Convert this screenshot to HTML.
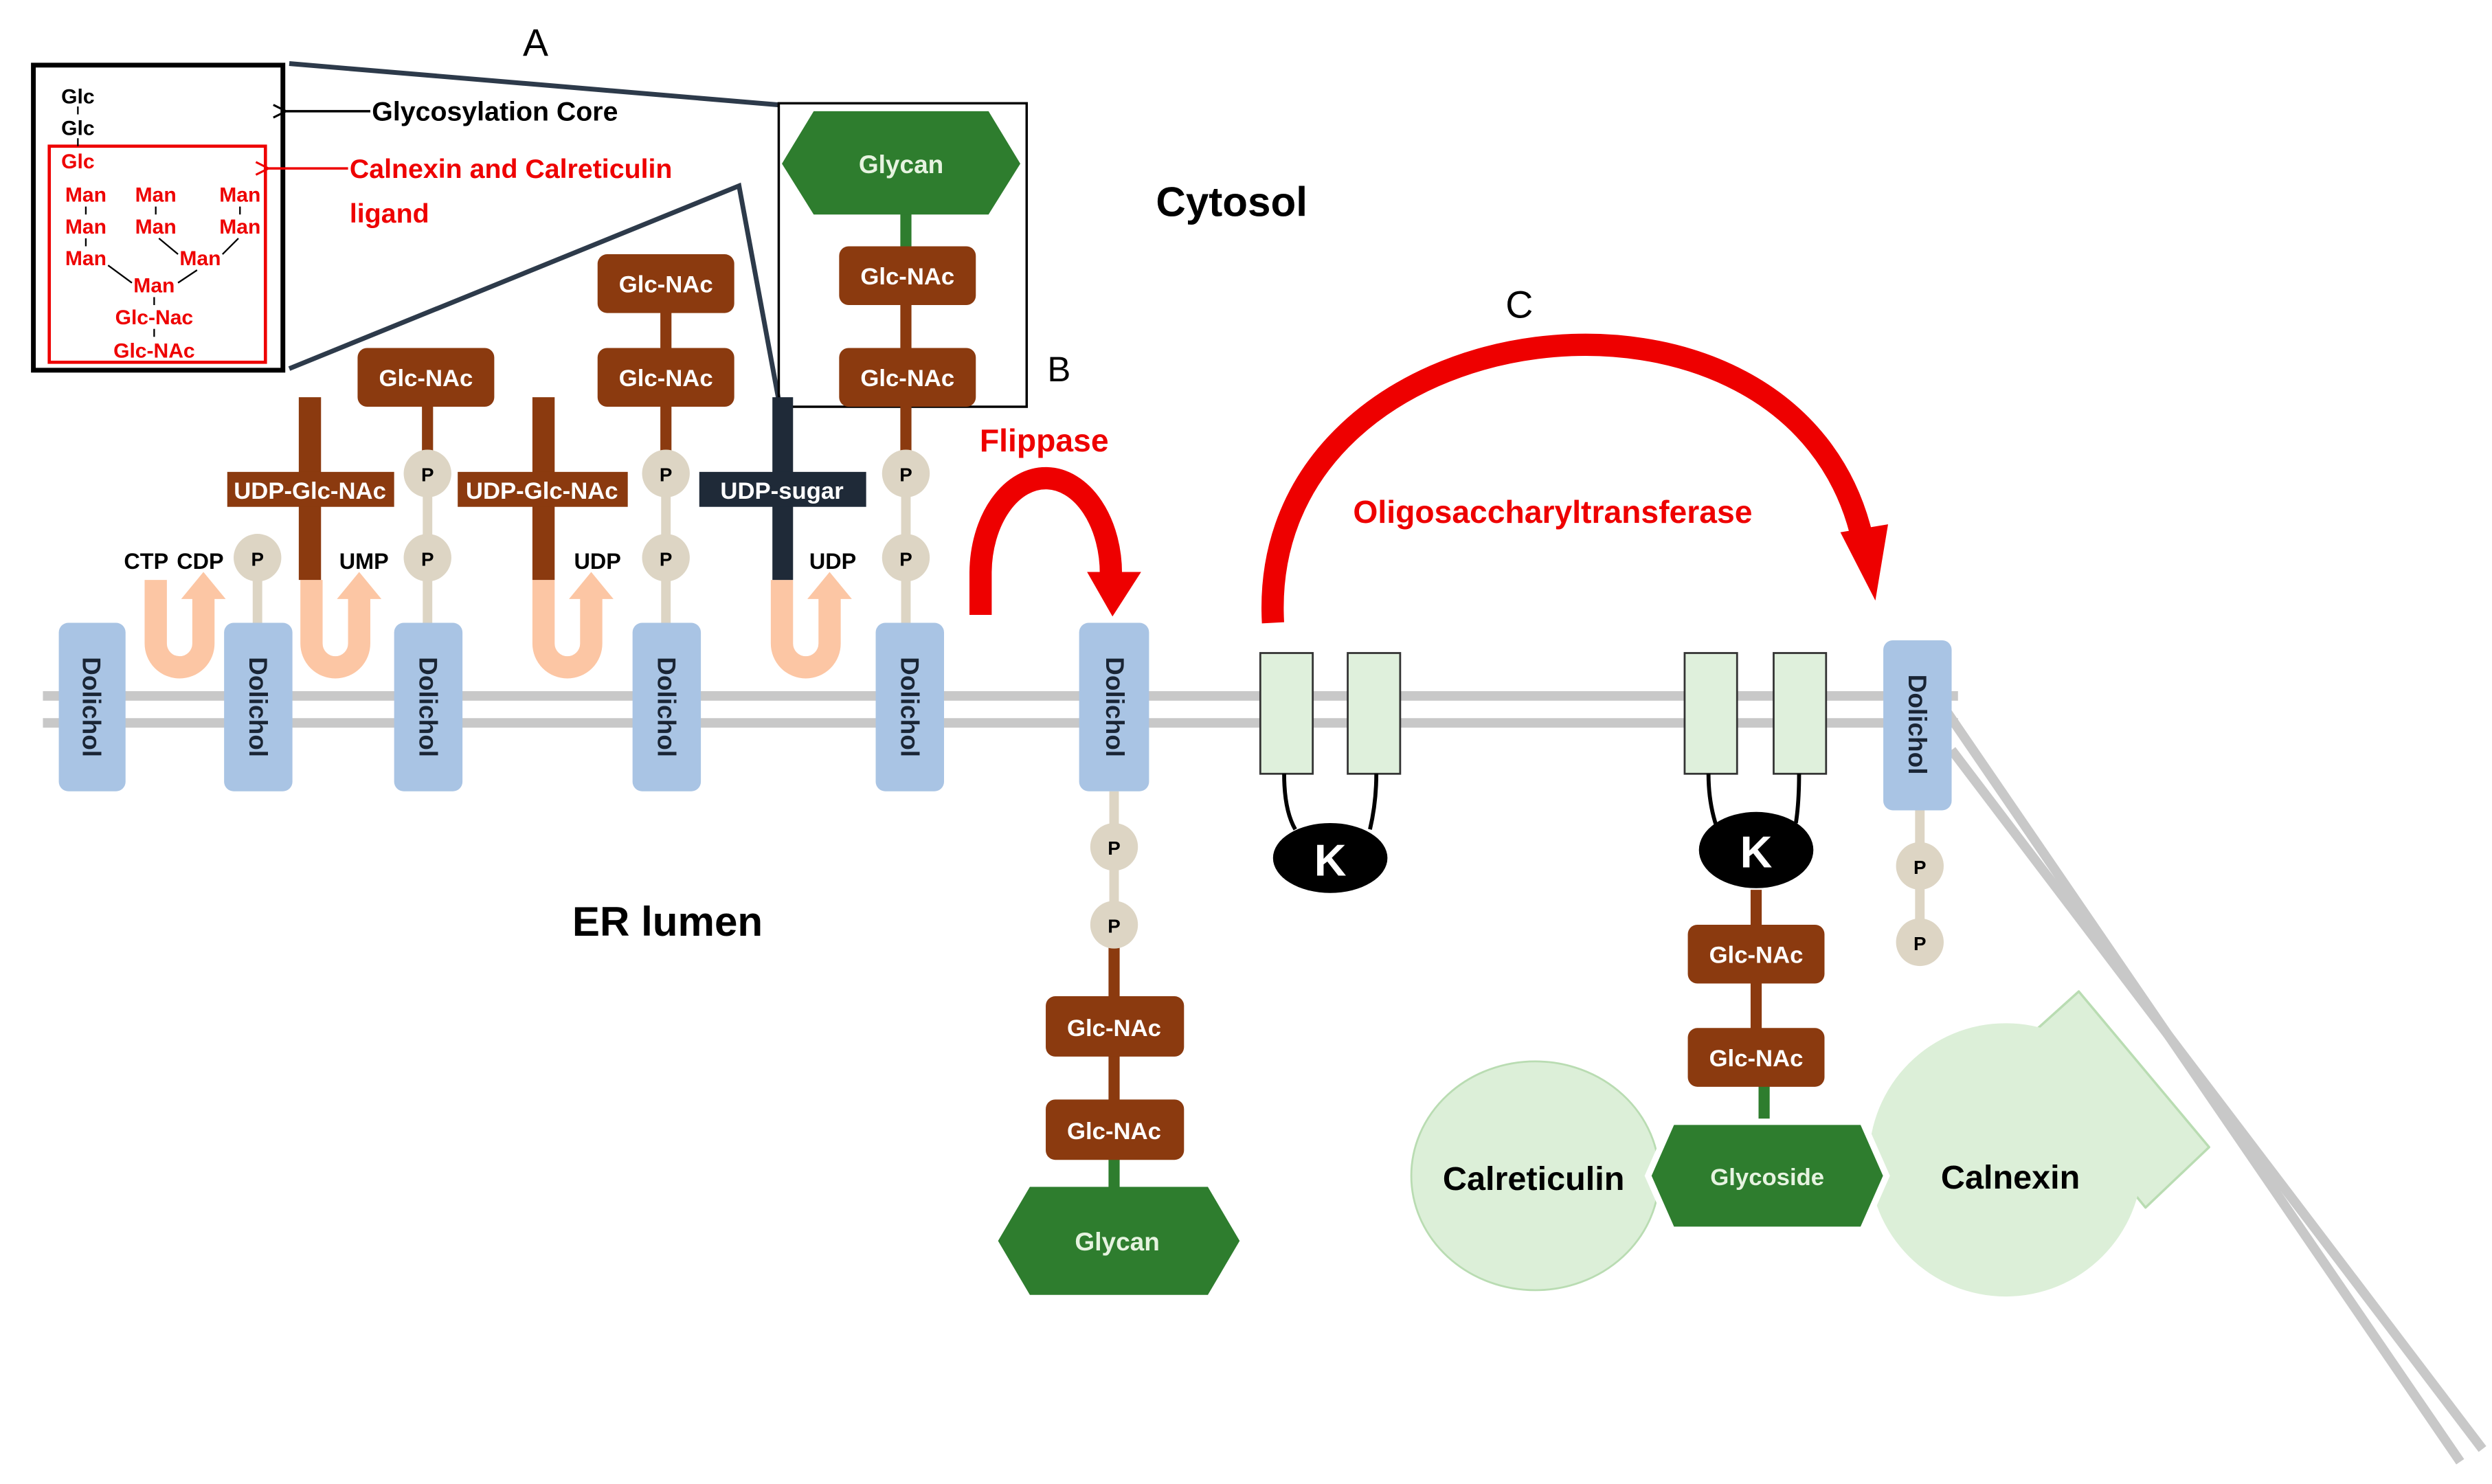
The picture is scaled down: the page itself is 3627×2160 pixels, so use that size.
<!DOCTYPE html>
<html><head><meta charset="utf-8"><style>
html,body{margin:0;padding:0;background:#fff;}
svg{display:block;}
text{font-family:"Liberation Sans",sans-serif;font-weight:bold;}
</style></head><body>
<svg width="3627" height="2160" viewBox="0 0 1568 934" preserveAspectRatio="none" xmlns="http://www.w3.org/2000/svg">
<defs>
<marker id="ab" markerWidth="10" markerHeight="10" refX="1" refY="5" orient="auto" markerUnits="userSpaceOnUse"><path d="M9,1 L1,5 L9,9" fill="none" stroke="#000" stroke-width="1.3"/></marker>
<marker id="ar" markerWidth="10" markerHeight="10" refX="1" refY="5" orient="auto" markerUnits="userSpaceOnUse"><path d="M9,1 L1,5 L9,9" fill="none" stroke="#e00" stroke-width="1.3"/></marker>
</defs>
<g stroke="#c8c8c8" stroke-width="6" fill="none">
<line x1="27" y1="438" x2="1232" y2="438"/>
<line x1="27" y1="455" x2="1232" y2="455"/>
<line x1="1225" y1="448" x2="1548" y2="920"/>
<line x1="1228" y1="472" x2="1562" y2="912"/>
</g>
<text x="337" y="35" font-size="24" text-anchor="middle" style="font-weight:normal">A</text>
<g stroke="#2d3a4a" stroke-width="3" fill="none">
<line x1="182" y1="40" x2="490" y2="66"/>
<polyline points="182,232 465,117 490,252"/>
</g>
<rect x="21" y="41" width="157" height="192" fill="#fff" stroke="#000" stroke-width="3"/>
<rect x="31" y="92" width="136" height="136" fill="none" stroke="#e00" stroke-width="2"/>
<g font-size="13" text-anchor="middle">
<text x="49" y="65" fill="#000">Glc</text>
<text x="49" y="85" fill="#000">Glc</text>
<line x1="49" y1="67" x2="49" y2="72" stroke="#000"/>
<line x1="49" y1="87" x2="49" y2="92" stroke="#000"/>
<g fill="#e00">
<text x="49" y="106">Glc</text>
<text x="54" y="127">Man</text><text x="98" y="127">Man</text><text x="151" y="127">Man</text>
<text x="54" y="147">Man</text><text x="98" y="147">Man</text><text x="151" y="147">Man</text>
<text x="54" y="167">Man</text><text x="126" y="167">Man</text>
<text x="97" y="184">Man</text>
<text x="97" y="204">Glc-Nac</text>
<text x="97" y="225">Glc-NAc</text>
</g>
<g stroke="#000" stroke-width="1">
<line x1="54" y1="130" x2="54" y2="135"/><line x1="98" y1="130" x2="98" y2="135"/><line x1="151" y1="130" x2="151" y2="135"/>
<line x1="54" y1="150" x2="54" y2="155"/><line x1="100" y1="150" x2="112" y2="160"/><line x1="150" y1="150" x2="140" y2="160"/>
<line x1="68" y1="167" x2="83" y2="178"/><line x1="124" y1="170" x2="112" y2="178"/>
<line x1="97" y1="187" x2="97" y2="192"/><line x1="97" y1="207" x2="97" y2="212"/>
</g>
</g>
<line x1="233" y1="70" x2="180" y2="70" stroke="#000" stroke-width="1.5" marker-end="url(#ab)"/>
<text x="234" y="76" font-size="17">Glycosylation Core</text>
<line x1="219" y1="106" x2="169" y2="106" stroke="#e00" stroke-width="1.5" marker-end="url(#ar)"/>
<text x="220" y="112" font-size="17" fill="#e00">Calnexin and Calreticulin</text>
<text x="220" y="140" font-size="17" fill="#e00">ligand</text>
<rect x="490" y="65" width="156" height="191" fill="none" stroke="#000" stroke-width="1.5"/>
<text x="659" y="240" font-size="22" style="font-weight:normal">B</text>
<text x="956" y="200" font-size="24" style="font-weight:normal" text-anchor="middle">C</text>
<text x="775" y="136" font-size="26" text-anchor="middle">Cytosol</text>
<text x="420" y="589" font-size="26" text-anchor="middle">ER lumen</text>
<g stroke="#fcc6a4" stroke-width="14" fill="none">
<path d="M98,365 V405 A15,15 0 0 0 128,405 V375"/>
<path d="M196,365 V405 A15,15 0 0 0 226,405 V375"/>
<path d="M342,365 V405 A15,15 0 0 0 372,405 V375"/>
<path d="M492,365 V405 A15,15 0 0 0 522,405 V375"/>
</g>
<g fill="#fcc6a4">
<polygon points="114,377 142,377 128,360"/>
<polygon points="212,377 240,377 226,360"/>
<polygon points="358,377 386,377 372,360"/>
<polygon points="508,377 536,377 522,360"/>
</g>
<rect x="188" y="250" width="14" height="115" fill="#8b3a0f"/>
<rect x="143" y="297" width="105" height="22" fill="#8b3a0f"/>
<text x="195" y="314" font-size="15" fill="#fff" text-anchor="middle">UDP-Glc-NAc</text>
<rect x="335" y="250" width="14" height="115" fill="#8b3a0f"/>
<rect x="288" y="297" width="107" height="22" fill="#8b3a0f"/>
<text x="341" y="314" font-size="15" fill="#fff" text-anchor="middle">UDP-Glc-NAc</text>
<rect x="486" y="250" width="13" height="115" fill="#1f2a38"/>
<rect x="440" y="297" width="105" height="22" fill="#1f2a38"/>
<text x="492" y="314" font-size="15" fill="#fff" text-anchor="middle">UDP-sugar</text>
<g font-size="14" text-anchor="middle">
<text x="92" y="358">CTP</text><text x="126" y="358">CDP</text>
<text x="229" y="358">UMP</text><text x="376" y="358">UDP</text><text x="524" y="358">UDP</text>
</g>
<g stroke="#ddd5c4" stroke-width="6">
<line x1="162" y1="351" x2="162" y2="395"/>
<line x1="269" y1="298" x2="269" y2="395"/>
<line x1="419" y1="298" x2="419" y2="395"/>
<line x1="570" y1="298" x2="570" y2="395"/>
<line x1="701" y1="498" x2="701" y2="582"/>
<line x1="1208" y1="505" x2="1208" y2="593"/>
</g>
<g stroke="#8b3a0f" stroke-width="7">
<line x1="269" y1="250" x2="269" y2="285"/>
<line x1="419" y1="190" x2="419" y2="285"/>
<line x1="570" y1="180" x2="570" y2="285"/>
<line x1="701" y1="595" x2="701" y2="700"/>
<line x1="1105" y1="560" x2="1105" y2="670"/>
</g>
<g stroke="#2e7d2e" stroke-width="7">
<line x1="570" y1="130" x2="570" y2="160"/>
<line x1="701" y1="725" x2="701" y2="750"/>
<line x1="1110" y1="680" x2="1110" y2="710"/>
</g>
<g fill="#ddd5c4">
<circle cx="162" cy="351" r="15"/>
<circle cx="269" cy="298" r="15"/><circle cx="269" cy="351" r="15"/>
<circle cx="419" cy="298" r="15"/><circle cx="419" cy="351" r="15"/>
<circle cx="570" cy="298" r="15"/><circle cx="570" cy="351" r="15"/>
<circle cx="701" cy="533" r="15"/><circle cx="701" cy="582" r="15"/>
<circle cx="1208" cy="545" r="15"/><circle cx="1208" cy="593" r="15"/>
</g>
<g font-size="12" text-anchor="middle">
<text x="162" y="356">P</text>
<text x="269" y="303">P</text><text x="269" y="356">P</text>
<text x="419" y="303">P</text><text x="419" y="356">P</text>
<text x="570" y="303">P</text><text x="570" y="356">P</text>
<text x="701" y="538">P</text><text x="701" y="587">P</text>
<text x="1208" y="550">P</text><text x="1208" y="598">P</text>
</g>
<g fill="#8b3a0f">
<rect x="225" y="219" width="86" height="37" rx="6"/>
<rect x="376" y="160" width="86" height="37" rx="6"/>
<rect x="376" y="219" width="86" height="37" rx="6"/>
<rect x="528" y="155" width="86" height="37" rx="6"/>
<rect x="528" y="219" width="86" height="37" rx="6"/>
<rect x="658" y="627" width="87" height="38" rx="6"/>
<rect x="658" y="692" width="87" height="38" rx="6"/>
<rect x="1062" y="582" width="86" height="37" rx="6"/>
<rect x="1062" y="647" width="86" height="37" rx="6"/>
</g>
<g font-size="15" fill="#fff" text-anchor="middle">
<text x="268" y="243">Glc-NAc</text>
<text x="419" y="184">Glc-NAc</text><text x="419" y="243">Glc-NAc</text>
<text x="571" y="179">Glc-NAc</text><text x="571" y="243">Glc-NAc</text>
<text x="701" y="652">Glc-NAc</text><text x="701" y="717">Glc-NAc</text>
<text x="1105" y="606">Glc-NAc</text><text x="1105" y="671">Glc-NAc</text>
</g>
<polygon points="492,103 512,70 622,70 642,103 622,135 512,135" fill="#2e7d2e"/>
<text x="567" y="109" font-size="16" fill="#e6f3e0" text-anchor="middle">Glycan</text>
<polygon points="628,781 648,747 760,747 780,781 760,815 648,815" fill="#2e7d2e"/>
<text x="703" y="787" font-size="16" fill="#e6f3e0" text-anchor="middle">Glycan</text>
<g fill="#a9c4e4">
<rect x="37" y="392" width="42" height="106" rx="6"/>
<rect x="141" y="392" width="43" height="106" rx="6"/>
<rect x="248" y="392" width="43" height="106" rx="6"/>
<rect x="398" y="392" width="43" height="106" rx="6"/>
<rect x="551" y="392" width="43" height="106" rx="6"/>
<rect x="679" y="392" width="44" height="106" rx="6"/>
<rect x="1185" y="403" width="43" height="107" rx="6"/>
</g>
<g font-size="16" fill="#1a2535" text-anchor="middle">
<text transform="translate(52,445) rotate(90)">Dolichol</text>
<text transform="translate(157,445) rotate(90)">Dolichol</text>
<text transform="translate(264,445) rotate(90)">Dolichol</text>
<text transform="translate(414,445) rotate(90)">Dolichol</text>
<text transform="translate(567,445) rotate(90)">Dolichol</text>
<text transform="translate(696,445) rotate(90)">Dolichol</text>
<text transform="translate(1201,456) rotate(90)">Dolichol</text>
</g>
<text x="657" y="284" font-size="20" fill="#e00" text-anchor="middle">Flippase</text>
<path d="M617,387 V360 A41,60 0 0 1 699,362" fill="none" stroke="#e00" stroke-width="14"/>
<polygon points="684,360 718,360 700,388" fill="#e00"/>
<path d="M801,392 C790,190 1130,150 1172,340" fill="none" stroke="#e00" stroke-width="14"/>
<polygon points="1158,335 1188,330 1180,378" fill="#e00"/>
<text x="977" y="329" font-size="20" fill="#e00" text-anchor="middle">Oligosaccharyltransferase</text>
<g fill="#dff0dc" stroke="#333" stroke-width="1.2">
<rect x="793" y="411" width="33" height="76"/>
<rect x="848" y="411" width="33" height="76"/>
<rect x="1060" y="411" width="33" height="76"/>
<rect x="1116" y="411" width="33" height="76"/>
</g>
<g stroke="#000" stroke-width="2.5" fill="none">
<path d="M808,487 Q808,510 815,522"/><path d="M866,487 Q866,505 862,522"/>
<path d="M1075,487 Q1075,505 1080,520"/><path d="M1132,487 Q1132,505 1130,518"/>
</g>
<ellipse cx="837" cy="540" rx="36" ry="22" fill="#000"/>
<ellipse cx="1105" cy="535" rx="36" ry="24" fill="#000"/>
<text x="837" y="551" font-size="28" fill="#fff" text-anchor="middle">K</text>
<text x="1105" y="546" font-size="28" fill="#fff" text-anchor="middle">K</text>
<ellipse cx="966" cy="740" rx="78" ry="72" fill="#dcefd8" stroke="#b9dcb2" stroke-width="1.2"/>
<polygon points="1268,660 1308,624 1390,722 1350,760" fill="#dcefd8" stroke="#b9dcb2" stroke-width="1.5" stroke-linejoin="round"/>
<circle cx="1262" cy="730" r="86" fill="#dcefd8"/>
<polygon points="1037,740 1052,706 1172,706 1187,740 1172,774 1052,774" fill="#2e7d2e" stroke="#fff" stroke-width="4"/>
<text x="1112" y="746" font-size="15" fill="#e6f3e0" text-anchor="middle">Glycoside</text>
<text x="965" y="749" font-size="21" text-anchor="middle">Calreticulin</text>
<text x="1265" y="748" font-size="21" text-anchor="middle">Calnexin</text>
</svg>
</body></html>
